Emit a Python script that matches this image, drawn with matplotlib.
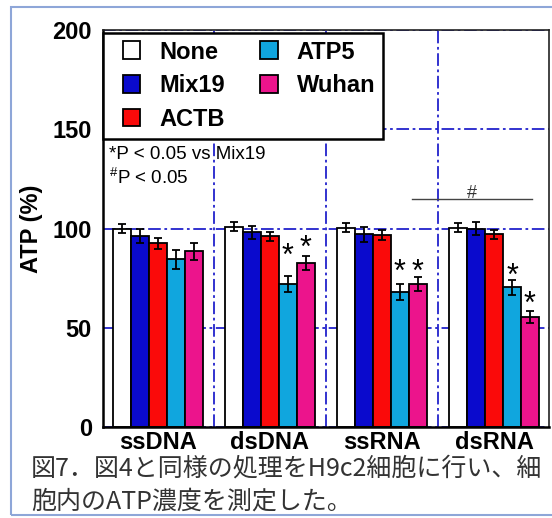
import matplotlib.pyplot as plt
from matplotlib.patches import Patch, Rectangle
from matplotlib.legend_handler import HandlerPatch
import numpy as np

plt.rcParams['font.family'] = ['Liberation Sans', 'DejaVu Sans']
plt.rcParams['mathtext.fontset'] = 'custom'
plt.rcParams['mathtext.rm'] = 'Liberation Sans'

# data (ATP %, mean and error)
groups = ['ssDNA', 'dsDNA', 'ssRNA', 'dsRNA']
treatments = ['None', 'Mix19', 'ACTB', 'ATP5', 'Wuhan']
colors = ['#ffffff', '#0a0acd', '#fa0a0a', '#10a6de', '#ec148c']

none_vals = [100, 101, 100.5, 100.5]
mix19_vals = [96, 98, 97, 100]
actb_vals = [92.5, 96, 96.5, 97]
atp5_vals = [84.5, 72, 68, 70.5]
wuhan_vals = [88.5, 82.5, 72, 55.5]

none_err = [2.5, 2.5, 2.5, 2.5]
mix19_err = [3.5, 3.2, 3.8, 3.3]
actb_err = [2.7, 2.2, 2.5, 2.3]
atp5_err = [4.8, 4.2, 4.2, 3.8]
wuhan_err = [4.4, 3.5, 3.5, 2.9]

# significance stars: (group, treatment, y of star)
stars = [(1, 3, 90.5), (1, 4, 94.5), (2, 3, 82.5), (2, 4, 82.5), (3, 3, 80.5), (3, 4, 66.5)]

caption_line1 = '図7．図4と同様の処理をH9c2細胞に行い、細'
caption_line2 = '胞内のATP濃度を測定した。'

all_vals = [none_vals, mix19_vals, actb_vals, atp5_vals, wuhan_vals]
all_err = [none_err, mix19_err, actb_err, atp5_err, wuhan_err]


def square_patch(legend, orig_handle, xdescent, ydescent, width, height, fontsize):
    # square handle pushed to the right end of the handle box
    s = height
    return Rectangle((-xdescent + width - s, -ydescent), s, s)


W, H = 552, 518
fig = plt.figure(figsize=(W / 100, H / 100), dpi=100)
ax = fig.add_axes([103 / W, 1 - 427 / H, 446 / W, 397 / H])

x = np.arange(len(groups))
bw = 0.16
offsets = (np.arange(5) - 2) * bw
grid_kw = dict(color='#2222cc', lw=1.3, ls=(0, (7, 2, 1.5, 2)))

for i in range(5):
    ax.bar(x + offsets[i], all_vals[i], bw, color=colors[i], edgecolor='black',
           linewidth=1.3, zorder=2)
    ax.errorbar(x + offsets[i], all_vals[i], yerr=all_err[i], fmt='none', ecolor='black',
                elinewidth=1.3, capsize=3.2, capthick=1.3, zorder=3)

for g, t, yv in stars:
    ax.annotate('*', (x[g] + offsets[t], yv), xytext=(0, -7), textcoords='offset points',
                ha='center', va='center', fontsize=22, zorder=4)

# ssRNA vs dsRNA bracket
ax.plot([2.27, 3.34], [115, 115], color='#444444', lw=1, zorder=4)
ax.text(2.8, 117.5, '#', ha='center', va='center', fontsize=13, color='#333333')

ax.text(-0.44, 137.5, '*P < 0.05 vs Mix19', ha='left', va='center', fontsize=13.5)
ax.text(-0.44, 125.5, r'$^{\#}$P < 0.05', ha='left', va='center', fontsize=13.5)

ax.set_xlim(-0.49, 3.49)
ax.set_ylim(0, 200)
ax.set_yticks([0, 50, 100, 150, 200])
ax.set_xticks(x)
ax.set_xticklabels(groups)
ax.set_xticks([0.5, 1.5, 2.5], minor=True)
ax.tick_params(axis='y', length=0, pad=8, labelsize=17)
ax.tick_params(axis='x', which='both', length=0, pad=3, labelsize=17)
for lab in ax.get_xticklabels() + ax.get_yticklabels():
    lab.set_fontweight('bold')
ax.set_axisbelow(True)
ax.grid(True, axis='y', which='major', **grid_kw)
ax.grid(True, axis='x', which='minor', **grid_kw)
ax.set_ylabel('ATP (%)', fontsize=17, fontweight='bold', labelpad=7)
for side in ['left', 'bottom']:
    ax.spines[side].set_linewidth(1.8)
for side in ['top', 'right']:
    ax.spines[side].set_linewidth(1.2)
    ax.spines[side].set_color('#222222')

handles = [Patch(facecolor=c, edgecolor='black', linewidth=1.3) for c in colors]
leg = ax.legend(handles, treatments, ncol=2, loc='upper left', bbox_to_anchor=(0, 0.993),
                borderaxespad=0, prop={'weight': 'bold', 'size': 17}, handlelength=1.25,
                handleheight=0.78, handletextpad=0.8, labelspacing=0.45, columnspacing=1.0,
                borderpad=0.33, fancybox=False, framealpha=1, edgecolor='black',
                handler_map={Patch: HandlerPatch(patch_func=square_patch)})
leg.get_frame().set_linewidth(1.8)
leg.set_zorder(5)

# caption
cap_kw = dict(fontfamily=['Noto Sans CJK JP', 'DejaVu Sans'], fontsize=18, color='#333333',
              va='center', ha='left')
fig.text(31 / W, 1 - 468 / H, caption_line1, **cap_kw)
fig.text(31 / W, 1 - 502 / H, caption_line2, **cap_kw)

# outer frame
fig.patches.append(Rectangle((11 / W, 1 - 515 / H), 1.0, (515 - 7) / H, transform=fig.transFigure,
                             fill=False, edgecolor='#8ea6d8', lw=1.5))

fig.savefig('out.png', dpi=100)
